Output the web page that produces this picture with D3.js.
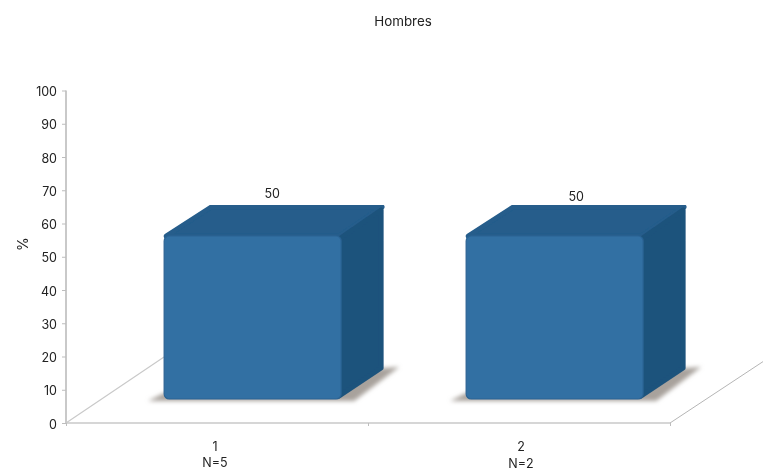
<!DOCTYPE html>
<html><head><meta charset="utf-8">
<script src="https://cdn.jsdelivr.net/npm/d3@7/dist/d3.min.js"></script>
<style>
html,body{margin:0;padding:0;background:#fff}
svg{display:block;filter:blur(0.3px)}
text{font-family:"Inter","Lato",sans-serif;fill:#222;font-size:12.5px}
</style></head><body>
<script>
const categories = ["1", "2"];
const sampleLabels = ["N=5", "N=2"];
const values = [50, 50];
const yTicks = [0,10,20,30,40,50,60,70,80,90,100];
const titleText = "Hombres";
const yTitle = "%";

const W = 763, H = 471;
const svg = d3.select("body").append("svg").attr("width",W).attr("height",H);
const defs = svg.append("defs");
const soft = defs.append("filter").attr("id","soft").attr("x","-5%").attr("y","-5%").attr("width","110%").attr("height","110%");
soft.append("feGaussianBlur").attr("stdDeviation",0.6);
const shadowBlur = defs.append("filter").attr("id","shadow").attr("x","-10%").attr("y","-20%").attr("width","120%").attr("height","140%");
shadowBlur.append("feGaussianBlur").attr("stdDeviation",2);

const y = d3.scaleLinear().domain([0,100]).range([423,90.5]);
const x = d3.scaleBand().domain(categories).range([66,670]);
const yBar = d3.scaleLinear().domain([0,100]).range([399,73]);
const barInset = x.bandwidth()*0.325, barW = x.bandwidth()*0.586;
const dx = 43, dy = -31;          // bar depth
const fx = 98, fy = -66;          // floor depth

const axisC = "#c9c9c9";
const floor = svg.append("g").attr("fill","none").attr("stroke",axisC);
floor.append("line").attr("x1",x.range()[0]).attr("y1",y(0)).attr("x2",x.range()[0]+fx).attr("y2",y(0)+fy).attr("stroke-width",1.2);
floor.append("line").attr("x1",x.range()[1]).attr("y1",y(0)).attr("x2",W).attr("y2",y(0)-(W-x.range()[1])*0.66).attr("stroke","#b5b5b5").attr("stroke-width",1);

const gy = svg.append("g").attr("transform",`translate(${x.range()[0]},0)`)
  .call(d3.axisLeft(y).tickValues(yTicks).tickSize(4).tickPadding(5));
const gx = svg.append("g").attr("transform",`translate(0,${y(0)})`)
  .call(d3.axisBottom(d3.scaleLinear().domain([0,2]).range(x.range())).tickValues([0,1,2]).tickSize(3).tickFormat(""));
gy.select(".domain").attr("stroke",axisC).attr("stroke-width",2).attr("d",`M0,${y(100)}V${y(0)}`);
gx.select(".domain").attr("stroke",axisC).attr("stroke-width",1.6).attr("d",`M${x.range()[0]},0H${x.range()[1]}`);
gy.selectAll(".tick line").attr("stroke","#bdbdbd");
gx.selectAll(".tick line").attr("stroke","#bdbdbd");
gy.selectAll("text").attr("font-size",null).attr("font-family",null).attr("dy","0.32em").attr("y",1).style("font-size","12.5px");

const data = categories.map((c,i)=>({c,v:values[i],n:sampleLabels[i]}));
const bars = svg.selectAll("g.bar").data(data).join("g").attr("class","bar");

bars.append("path").attr("filter","url(#shadow)").attr("fill","#a8a29c")
 .attr("d",d=>{const l=x(d.c)+barInset,r=l+barW,b=yBar(0);
   return `M${l-16},${b+2}L${l},${b-6}L${r+dx},${b+dy}L${r+dx+15},${b+dy-1}L${r+13},${b+2}Z`;});

bars.append("path").attr("fill","#255d8b").attr("stroke","#255d8b").attr("stroke-width",5).attr("stroke-linejoin","round").attr("filter","url(#soft)")
 .attr("d",d=>{const l=x(d.c)+barInset+2,r=l+barW-4,t=yBar(d.v);
   return `M${l},${t}L${l+dx+2},${t+dy+2}L${r+dx},${t+dy+2}L${r},${t}Z`;});
bars.append("path").attr("fill","#1c527c").attr("stroke","#1c527c").attr("stroke-width",5).attr("stroke-linejoin","round").attr("filter","url(#soft)")
 .attr("d",d=>{const r=x(d.c)+barInset+barW-2,t=yBar(d.v),b=yBar(0);
   return `M${r},${t+3}L${r+dx-1},${t+dy+5}L${r+dx-1},${b+dy}L${r},${b-3}Z`;});
bars.append("rect").attr("filter","url(#soft)").attr("fill","#336fa3").attr("stroke","#2a6494").attr("stroke-width",1.2)
 .attr("x",d=>x(d.c)+barInset).attr("y",d=>yBar(d.v))
 .attr("width",barW).attr("height",d=>yBar(0)-yBar(d.v)).attr("rx",5);

bars.append("text").attr("text-anchor","middle")
 .attr("x",(d,i)=>x(d.c)+barInset+(barW+dx)/2+(i?0:-2)).attr("y",(d,i)=>yBar(d.v)+dy-7+i*3)
 .text(d=>d.v);

const cl = svg.selectAll("text.cat").data(data).join("text").attr("class","cat").attr("text-anchor","middle");
cl.append("tspan").attr("x",(d,i)=>x(d.c)+x.bandwidth()/2-(i?-2:2)).attr("y",451).text(d=>d.c);
cl.append("tspan").attr("x",(d,i)=>x(d.c)+x.bandwidth()/2-(i?-2:2)).attr("y",(d,i)=>467+i).text(d=>d.n);

svg.append("text").attr("x",403).attr("y",26).attr("text-anchor","middle").style("font-size","13.4px").text(titleText);
svg.append("text").attr("transform","translate(28,244) rotate(-90)").attr("text-anchor","middle").style("font-size","14px").text(yTitle);
</script>
</body></html>
